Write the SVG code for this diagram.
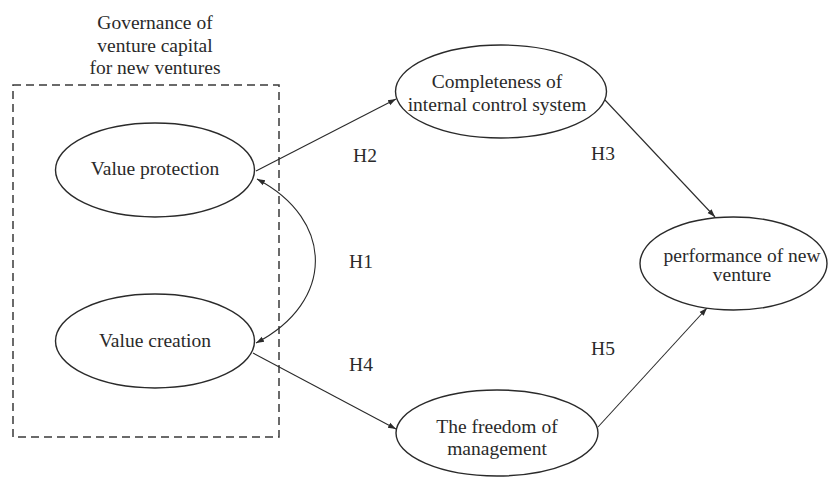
<svg xmlns="http://www.w3.org/2000/svg" width="829" height="477" viewBox="0 0 829 477">
<style>
text{font-family:"Liberation Serif","Times New Roman",serif;font-size:19.5px;fill:#2a2a2a;text-anchor:middle}
.node ellipse{fill:#fff;stroke:#2a2a2a;stroke-width:1.4}
.edge{fill:none;stroke:#2a2a2a;stroke-width:1.1}
.box{fill:none;stroke:#3a3a3a;stroke-width:1.5;stroke-dasharray:8 5}
</style>
<defs>
<marker id="ah" viewBox="0 0 10 10" refX="10" refY="5" markerWidth="8" markerHeight="8" markerUnits="userSpaceOnUse" orient="auto-start-reverse">
<path d="M0,1.5 L10,5 L0,8.5 Z" fill="#2a2a2a"/>
</marker>
</defs>
<rect width="829" height="477" fill="#fff"/>
<g id="group-governance">
<rect class="box" x="13" y="85" width="266" height="352"/>
<text x="155" y="29">Governance of</text>
<text x="155" y="52">venture capital</text>
<text x="155" y="74">for new ventures</text>
</g>
<g id="connectors">
<path class="edge" d="M256,171 L396,99" marker-end="url(#ah)"/>
<path class="edge" d="M257,179 C335,220 335,302 256,343" marker-start="url(#ah)" marker-end="url(#ah)"/>
<path class="edge" d="M253,353 L396,429" marker-end="url(#ah)"/>
<path class="edge" d="M605,100 L715,217" marker-end="url(#ah)"/>
<path class="edge" d="M598,427 L707,308" marker-end="url(#ah)"/>
<text x="365" y="162">H2</text>
<text x="361" y="268">H1</text>
<text x="361" y="371">H4</text>
<text x="603" y="160">H3</text>
<text x="603" y="355">H5</text>
</g>
<g id="node-value-protection" class="node">
<ellipse cx="155" cy="170" rx="99.5" ry="47"/>
<text x="155" y="175">Value protection</text>
</g>
<g id="node-value-creation" class="node">
<ellipse cx="155" cy="341" rx="99.5" ry="47"/>
<text x="155" y="347">Value creation</text>
</g>
<g id="node-completeness" class="node">
<ellipse cx="501" cy="91.5" rx="105.5" ry="46.5"/>
<text x="497" y="88">Completeness of</text>
<text x="497" y="111">internal control system</text>
</g>
<g id="node-freedom" class="node">
<ellipse cx="497" cy="433" rx="101" ry="43"/>
<text x="497" y="433">The freedom of</text>
<text x="497" y="455">management</text>
</g>
<g id="node-performance" class="node">
<ellipse cx="733.5" cy="263.5" rx="93.5" ry="46.5"/>
<text x="742" y="262">performance of new</text>
<text x="742" y="281">venture</text>
</g>
</svg>
